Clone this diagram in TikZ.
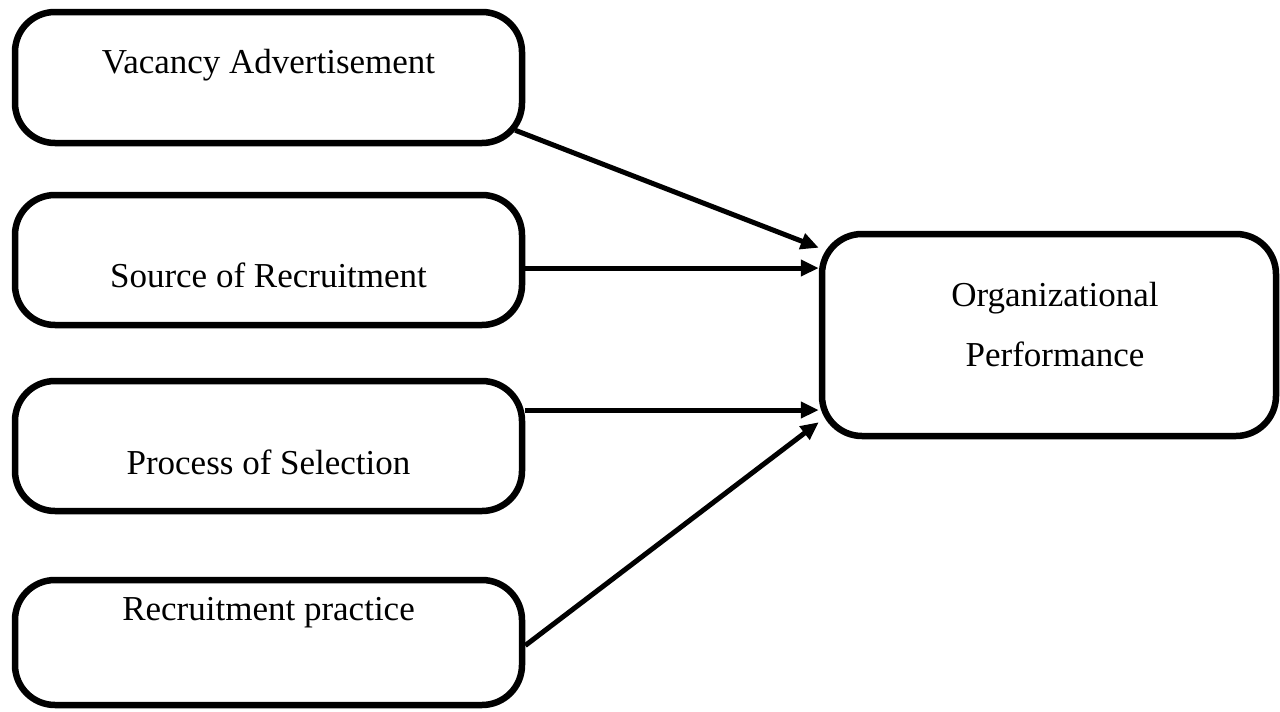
\documentclass[tikz,border=0pt]{standalone}
\usepackage{fontspec}
\setmainfont{Liberation Serif}
\usetikzlibrary{arrows.meta}
\tikzset{
  factor/.style={draw, line width=6.5pt, rounded corners=40pt, minimum width=507pt, inner sep=0pt},
  arr/.style={line width=5pt, -{Triangle[length=18pt,width=16pt]}}
}
\begin{document}
\begin{tikzpicture}
			[x=1pt, y=-1pt, font=\fontsize{35}{60}\selectfont]
			\useasboundingbox (0,0) rectangle (1280,712);
			\node[factor, minimum height=131pt, label={[yshift=12pt]center:Vacancy Advertisement}] (va) at (268.5,77.5) {};
			\node[factor, minimum height=130pt, label={[yshift=-15pt]center:Source of Recruitment}] (sr) at (268.5,260) {};
			\node[factor, minimum height=130pt, label={[yshift=-16pt]center:Process of Selection}] (ps) at (268.5,446) {};
			\node[factor, minimum height=125pt, label={[yshift=30pt]center:Recruitment practice}] (rp) at (268.5,642.5) {};
			\node[factor, minimum width=454pt, minimum height=202pt, label={[xshift=6pt, yshift=10pt, align=center]center:Organizational\\Performance}] (op) at (1049,335) {};
			\draw[arr] ([xshift=-10pt, yshift=16pt]va.south east) -- ([yshift=-17pt]op.north west);
			\draw[arr] ([yshift=-8pt]sr.east) -- ([yshift=-8pt]sr.east -| op.west);
			\draw[arr] ([yshift=36pt]ps.east) -- ([yshift=36pt]ps.east -| op.west);
			\draw[arr] ([yshift=-3pt]rp.east) -- ([yshift=17pt]op.south west);
			\end{tikzpicture}
\end{document}
